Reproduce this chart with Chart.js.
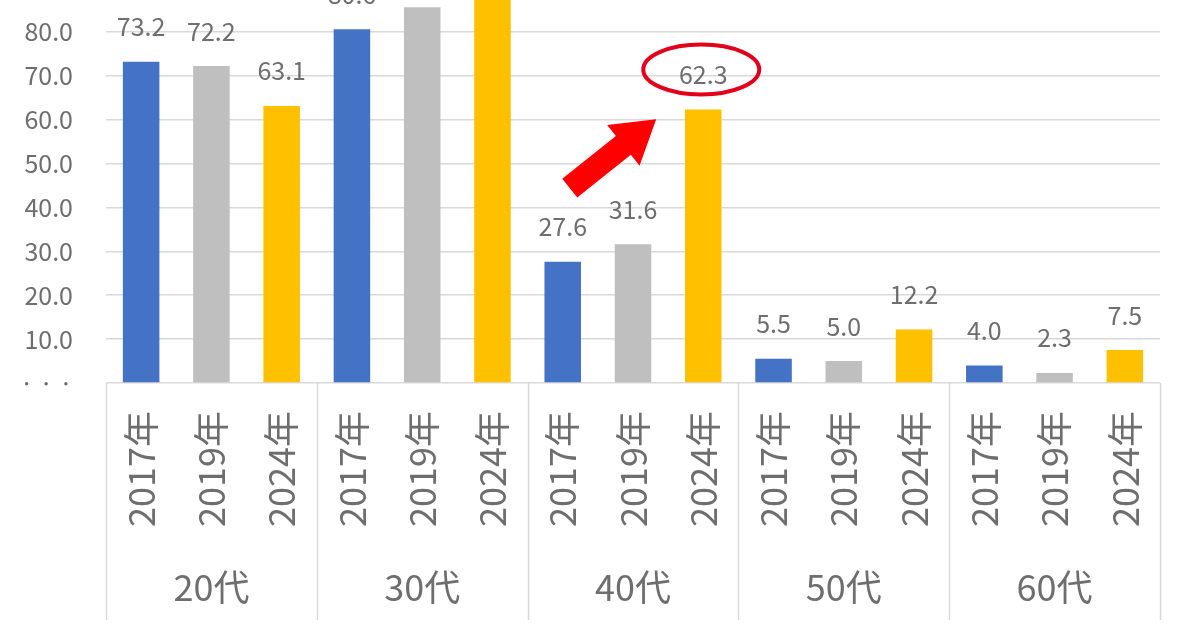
<!DOCTYPE html>
<html><head><meta charset="utf-8">
<script src="https://cdn.jsdelivr.net/npm/chart.js@4.4.1/dist/chart.umd.min.js"></script>
<style>
html,body{margin:0;padding:0;background:#fff;overflow:hidden;width:1200px;height:628px;}
#wrap{position:absolute;left:0;top:-80px;width:1200px;height:708px;}
</style></head><body>
<div id="wrap"><canvas id="c" width="1200" height="708"></canvas></div>
<script>
const ageGroups = ['20代', '30代', '40代', '50代', '60代'];
const years = ['2017年', '2019年', '2024年'];
const values2017 = [73.2, 80.6, 27.6, 5.5, 4.0];
const values2019 = [72.2, 85.6, 31.6, 5.0, 2.3];
const values2024 = [63.1, 91.0, 62.3, 12.2, 7.5];
const seriesColors = ['#4472C4', '#BFBFBF', '#FFC000'];
const yMin = 0, yMax = 100, yStep = 10;

const FONT = '"Noto Sans CJK JP", "Noto Sans", sans-serif';
const TXT = '#6e6e6e';
const GRID = '#d9d9d9';

const labels = [];
ageGroups.forEach(g => years.forEach(y => labels.push([y, g])));
const seriesValues = [values2017, values2019, values2024];
const datasets = seriesValues.map((vals, s) => ({
  label: years[s],
  data: labels.map((_, i) => (i % 3 === s ? vals[Math.floor(i / 3)] : null)),
  backgroundColor: seriesColors[s],
  borderWidth: 0,
  skipNull: true,
  categoryPercentage: 1.0,
  barPercentage: 0.52
}));

const overlay = {
  id: 'overlay',
  afterDatasetsDraw(chart) {
    const ctx = chart.ctx;
    ctx.save();
    ctx.font = '25px ' + FONT;
    ctx.fillStyle = TXT;
    ctx.textAlign = 'center';
    ctx.textBaseline = 'middle';
    chart.data.datasets.forEach((ds, di) => {
      const meta = chart.getDatasetMeta(di);
      meta.data.forEach((bar, i) => {
        const v = ds.data[i];
        if (v === null || v === undefined) return;
        ctx.fillText(v.toFixed(1), bar.x, bar.y - 35);
      });
    });
    ctx.restore();
  },
  afterDraw(chart) {
    const ctx = chart.ctx;
    const xs = chart.scales.x, ys = chart.scales.y;
    const area = chart.chartArea;
    const H = chart.height;
    ctx.save();
    ctx.strokeStyle = GRID;
    ctx.lineWidth = 1.5;
    const gw = (area.right - area.left) / ageGroups.length;
    for (let g = 0; g <= ageGroups.length; g++) {
      const x = Math.round(area.left + g * gw) + 0.5;
      ctx.beginPath();
      ctx.moveTo(x, area.bottom);
      ctx.lineTo(x, H - 8);
      ctx.stroke();
    }
    ctx.fillStyle = TXT;
    ctx.font = '36px ' + FONT;
    labels.forEach((lab, i) => {
      const x = xs.getPixelForValue(i);
      ctx.save();
      ctx.translate(x, area.bottom + 28);
      ctx.rotate(-Math.PI / 2);
      ctx.textAlign = 'right';
      ctx.textBaseline = 'middle';
      ctx.fillText(lab[0], 0, 0);
      ctx.restore();
    });
    ctx.textAlign = 'center';
    ctx.textBaseline = 'middle';
    ctx.font = '36px ' + FONT;
    ageGroups.forEach((g, gi) => {
      const x = area.left + (gi + 0.5) * gw;
      ctx.fillText(g, x, area.bottom + 204);
    });
    const meta = chart.getDatasetMeta(2);
    const hb = meta.data[8];
    ctx.strokeStyle = '#e3001b';
    ctx.lineWidth = 4;
    ctx.beginPath();
    ctx.ellipse(hb.x - 2, hb.y - 40, 58, 25, 0, 0, Math.PI * 2);
    ctx.stroke();
    const tx = xs.getPixelForValue(7.33), ty = ys.getPixelForValue(60.1);
    const sx = xs.getPixelForValue(6.1), sy = ys.getPixelForValue(44.4);
    const ang = Math.atan2(ty - sy, tx - sx);
    const len = Math.hypot(tx - sx, ty - sy);
    ctx.save();
    ctx.translate(sx, sy);
    ctx.rotate(ang);
    const sw = 12, hl = 42, hw = 26;
    ctx.fillStyle = '#ff0000';
    ctx.beginPath();
    ctx.moveTo(0, -sw);
    ctx.lineTo(len - hl, -sw);
    ctx.lineTo(len - hl, -hw);
    ctx.lineTo(len, 0);
    ctx.lineTo(len - hl, hw);
    ctx.lineTo(len - hl, sw);
    ctx.lineTo(0, sw);
    ctx.closePath();
    ctx.fill();
    ctx.restore();
    ctx.restore();
  }
};

new Chart(document.getElementById('c'), {
  type: 'bar',
  data: { labels, datasets },
  options: {
    responsive: false,
    animation: false,
    devicePixelRatio: 1,
    layout: { padding: { top: 24, right: 40, left: 0, bottom: 0 } },
    plugins: { legend: { display: false }, tooltip: { enabled: false } },
    scales: {
      x: {
        grid: { display: false, drawTicks: false },
        border: { display: false },
        ticks: { display: false },
        afterFit(s) { s.height = 245; s.paddingLeft = 0; s.paddingRight = 0; }
      },
      y: {
        min: yMin, max: yMax,
        grid: { color: GRID, lineWidth: 1.5, drawTicks: false },
        border: { display: false },
        ticks: {
          stepSize: yStep,
          padding: 33,
          color: TXT,
          font: { family: FONT, size: 25 },
          callback: v => (v === 0 ? '· · ·' : v.toFixed(1))
        },
        afterFit(s) { s.width = 106; s.paddingTop = 0; s.paddingBottom = 0; }
      }
    }
  },
  plugins: [overlay]
});
</script>
</body></html>
